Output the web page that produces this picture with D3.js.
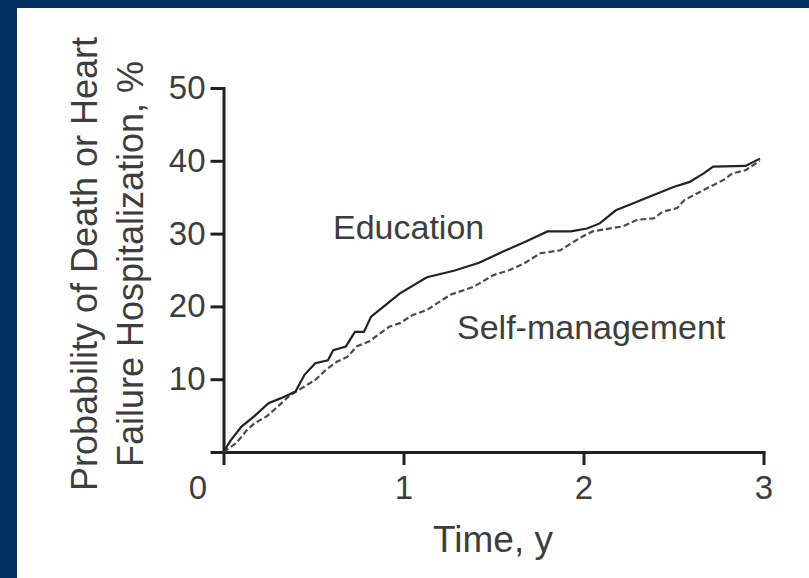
<!DOCTYPE html>
<html lang="en">
<head>
	<meta charset="utf-8">
	<script src="https://d3js.org/d3.v7.min.js"></script>
	<style type="text/css">
		body { margin: 0; background: #003060; }
		svg { display: block; }
		text { font-family: "Liberation Sans", Arial, sans-serif; fill: #3d3d3d; }
		.axis path, .axis line { stroke: #231f20; stroke-width: 3px; }
		.line { fill: none; stroke-width: 2.2px; }
	</style>
	<title>Death or HF hospitalization</title>
</head>
<body>
	<svg id="chart" width="809" height="578"></svg>

	<script type="text/javascript">

		// Education arm (solid)
		var eduTime = [0, 0.04, 0.1, 0.17, 0.25, 0.32, 0.4, 0.45, 0.51, 0.58, 0.61, 0.68, 0.73, 0.78, 0.82, 0.92, 0.98, 1.13, 1.28, 1.42, 1.55, 1.68, 1.8, 1.93, 2.02, 2.09, 2.18, 2.28, 2.39, 2.5, 2.59, 2.67, 2.72, 2.9, 2.98];
		var eduProb = [0, 1.6, 3.5, 4.9, 6.7, 7.4, 8.3, 10.6, 12.2, 12.6, 14, 14.5, 16.5, 16.5, 18.6, 20.6, 21.8, 24, 24.9, 26, 27.5, 28.9, 30.3, 30.3, 30.7, 31.4, 33.2, 34.2, 35.3, 36.4, 37.1, 38.3, 39.2, 39.3, 40.3];

		// Self-management arm (dashed)
		var selfTime = [0, 0.07, 0.13, 0.17, 0.24, 0.3, 0.37, 0.45, 0.51, 0.57, 0.63, 0.69, 0.74, 0.81, 0.86, 0.92, 0.98, 1.05, 1.13, 1.26, 1.39, 1.5, 1.59, 1.67, 1.76, 1.87, 1.98, 2.05, 2.22, 2.3, 2.39, 2.44, 2.52, 2.56, 2.63, 2.7, 2.78, 2.83, 2.9, 2.98];
		var selfProb = [0, 1.2, 3, 3.9, 4.9, 6.2, 7.8, 9, 9.9, 11.3, 12.4, 13.1, 14.5, 15.2, 16.1, 17.2, 17.7, 18.8, 19.5, 21.6, 22.7, 24.3, 25, 25.9, 27.3, 27.7, 29.4, 30.3, 31, 31.9, 32.1, 33, 33.5, 34.6, 35.5, 36.4, 37.4, 38.3, 38.7, 40];

		var xTicks = [0, 1, 2, 3];
		var yTicks = [0, 10, 20, 30, 40, 50];

		var svg = d3.select("#chart");

		// white panel inside navy frame
		svg.append("rect")
			.attr("x", 17)
			.attr("y", 8)
			.attr("width", 809 - 17)
			.attr("height", 578 - 8)
			.attr("fill", "#fff");

		var x = d3.scaleLinear().domain([0, 3]).range([223.5, 763.5]);
		var y = d3.scaleLinear().domain([0, 50]).range([452, 88]);

		var gx = svg.append("g")
			.attr("class", "axis")
			.attr("transform", "translate(0," + y(0) + ")")
			.call(d3.axisBottom(x).tickValues(xTicks).tickSize(13).tickSizeOuter(0).tickPadding(11).tickFormat(d3.format("d")));

		var gy = svg.append("g")
			.attr("class", "axis")
			.attr("transform", "translate(" + x(0) + ",0)")
			.call(d3.axisLeft(y).tickValues(yTicks).tickSize(13).tickSizeOuter(0).tickPadding(5)
				.tickFormat(function(d) { return d == 0 ? "" : d; }));

		svg.selectAll(".axis text")
			.attr("fill", null)
			.style("font-size", "33px");
		svg.selectAll(".axis .domain").attr("stroke-linecap", "square");

		// the origin "0" sits left of the corner
		gx.selectAll(".tick text")
			.filter(function(d) { return d == 0; })
			.attr("dx", -26);

		var line = d3.line()
			.x(function(d) { return x(d[0]); })
			.y(function(d) { return y(d[1]); });

		var edu = d3.zip(eduTime, eduProb);
		var self = d3.zip(selfTime, selfProb);

		svg.append("path")
			.attr("class", "line")
			.attr("d", line(self))
			.attr("stroke", "#4a4a4a")
			.attr("stroke-dasharray", "6,3");

		svg.append("path")
			.attr("class", "line")
			.attr("d", line(edu))
			.attr("stroke", "#222");

		svg.append("text")
			.attr("x", 333)
			.attr("y", 239)
			.style("font-size", "34px")
			.text("Education");

		svg.append("text")
			.attr("x", 457)
			.attr("y", 339)
			.style("font-size", "34px")
			.text("Self-management");

		svg.append("text")
			.attr("x", 493)
			.attr("y", 552)
			.attr("text-anchor", "middle")
			.style("font-size", "37px")
			.text("Time, y");

		var ytitle = svg.append("text")
			.attr("transform", "translate(97,264) rotate(-90)")
			.attr("text-anchor", "middle")
			.style("font-size", "36px");
		ytitle.append("tspan").attr("x", 0).attr("dy", 0).text("Probability of Death or Heart");
		ytitle.append("tspan").attr("x", 0).attr("dy", 46).text("Failure Hospitalization, %");

	</script>
</body>
</html>
